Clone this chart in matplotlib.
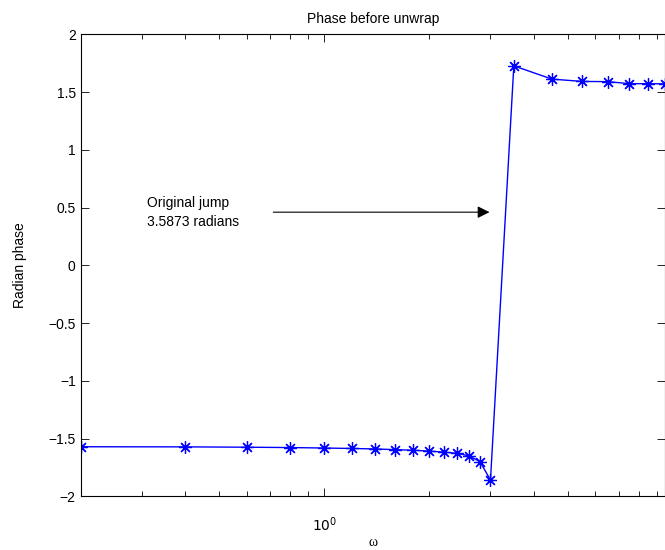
import matplotlib
matplotlib.use("Agg")
import matplotlib.pyplot as plt
from matplotlib.ticker import FixedLocator, LogLocator, NullFormatter, FixedFormatter

plt.rcParams['font.family'] = ['Liberation Sans', 'DejaVu Sans']

omega = [0.2, 0.4, 0.6, 0.8, 1.0, 1.2, 1.4, 1.6, 1.8, 2.0, 2.2, 2.4, 2.6, 2.8, 3.0,
         3.5, 4.5, 5.5, 6.5, 7.5, 8.5, 9.5]
phase = [-1.571, -1.572, -1.575, -1.578, -1.582, -1.586, -1.590, -1.596, -1.601, -1.609,
         -1.617, -1.628, -1.649, -1.700, -1.860,
         1.727, 1.612, 1.592, 1.590, 1.573, 1.572, 1.571]
yticks = [-2, -1.5, -1, -0.5, 0, 0.5, 1, 1.5, 2]
ytick_labels = ['\u22122', '\u22121.5', '\u22121', '\u22120.5', '0', '0.5', '1', '1.5', '2']
annot_text = "Original jump\n3.5873 radians"

fig = plt.figure(figsize=(6.65, 5.5), dpi=100)
ax = fig.add_axes([80.5/665, 53.7/550, 584.5/665, 462/550])

ax.plot(omega, phase, color=(0, 0, 1), lw=1.0, marker=(8, 2, 0), markersize=9,
        markeredgewidth=0.9)

ax.set_xscale('log')
ax.set_xlim(0.2, 9.5)
ax.set_ylim(-2, 2)

ax.xaxis.set_major_locator(FixedLocator([1.0]))
ax.xaxis.set_major_formatter(FixedFormatter(['$10^0$']))
ax.xaxis.set_minor_locator(LogLocator(base=10, subs=range(2, 10)))
ax.xaxis.set_minor_formatter(NullFormatter())

ax.set_yticks(yticks)
ax.set_yticklabels(ytick_labels)

ax.tick_params(which='both', direction='in', top=True, right=True, labelsize=10,
               width=0.6)
ax.tick_params(which='major', length=6)
ax.tick_params(which='minor', length=3.5)
ax.tick_params(axis='x', which='major', pad=14)
for s in ax.spines.values():
    s.set_linewidth(0.8)

ax.set_title('Phase before unwrap', fontsize=10, pad=8)
ax.set_xlabel('\u03c9', fontsize=10, family=['Liberation Serif', 'DejaVu Serif'], labelpad=1)
ax.set_ylabel('Radian phase', fontsize=10, labelpad=15)

ax.annotate('', xy=(2.98, 0.46), xytext=(0.715, 0.46),
            arrowprops=dict(arrowstyle='-|>', color='black', lw=0.8,
                            mutation_scale=18, shrinkA=0, shrinkB=0))
ax.text(0.31, 0.46, annot_text, fontsize=10, ha='left', va='center',
        linespacing=1.45)

fig.savefig('out.png', dpi=100)
